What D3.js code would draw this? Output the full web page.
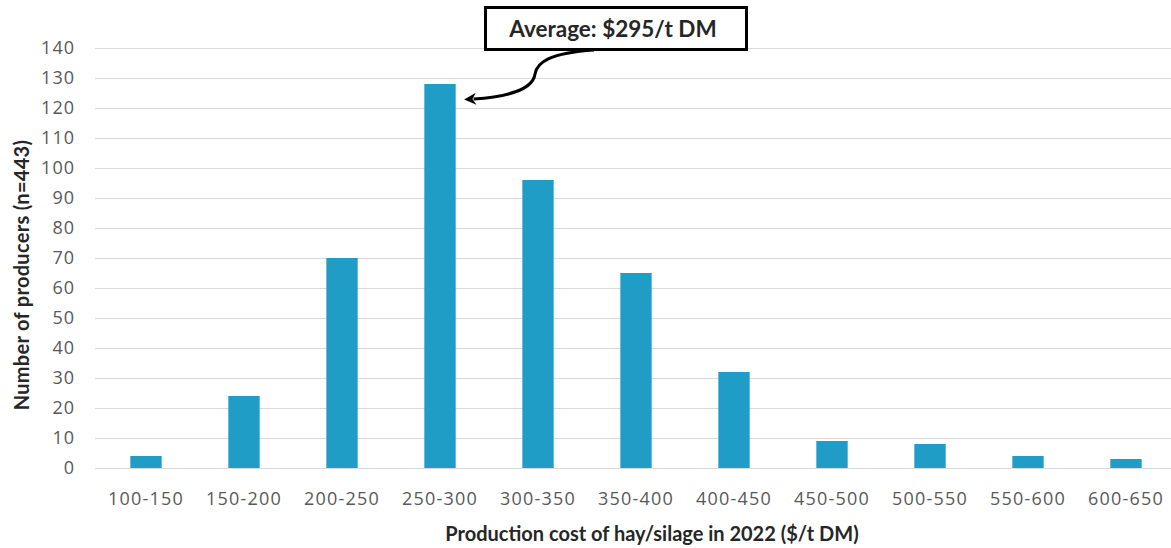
<!DOCTYPE html>
<html>
<head>
<meta charset="utf-8">
<script src="https://cdn.jsdelivr.net/npm/d3@7"></script>
<style>
  html, body { margin: 0; padding: 0; background: #fff; }
  svg { display: block; }
</style>
</head>
<body>
<svg id="chart" width="1171" height="548"></svg>
<script>
// Cost bands ($/t DM) and number of producers in each
const categories = ["100-150","150-200","200-250","250-300","300-350","350-400","400-450","450-500","500-550","550-600","600-650"];
const producers = [4, 24, 70, 128, 96, 65, 32, 9, 8, 4, 3];
const yTicks = [0,10,20,30,40,50,60,70,80,90,100,110,120,130,140];
const averageLabel = "Average: $295/t DM";

const svg = d3.select("#chart");
const margin = { left: 97, right: -4, top: 48, bottom: 80 };
const W = 1171, H = 548;

const x = d3.scaleBand()
  .domain(categories)
  .range([margin.left, W - margin.right])
  .paddingInner(0.68)
  .paddingOuter(0.34);

const y = d3.scaleLinear()
  .domain([0, 140])
  .range([H - margin.bottom, margin.top]);

// Horizontal gridlines
svg.append("g")
  .selectAll("line")
  .data(yTicks)
  .join("line")
  .attr("x1", 95)
  .attr("x2", 1171)
  .attr("y1", d => Math.round(y(d)) + 0.5)
  .attr("y2", d => Math.round(y(d)) + 0.5)
  .attr("stroke", "#d9d9d9")
  .attr("stroke-width", 1.2);

// Y axis labels
const yAxis = d3.axisLeft(y).tickValues(yTicks).tickSize(0).tickPadding(0);
const gy = svg.append("g")
  .attr("transform", `translate(75,0)`)
  .call(yAxis);
gy.select(".domain").remove();
gy.selectAll("text")
  .attr("font-family", "'Open Sans', sans-serif")
  .attr("font-size", 18)
  .attr("letter-spacing", 1)
  .attr("fill", "#595959");

// Bars
svg.append("g")
  .selectAll("rect")
  .data(producers)
  .join("rect")
  .attr("x", (d, i) => x(categories[i]))
  .attr("width", x.bandwidth())
  .attr("y", d => y(d))
  .attr("height", d => y(0) - y(d))
  .attr("fill", "#1f9dc7");

// X axis labels
const xAxis = d3.axisBottom(x).tickSize(0).tickPadding(0);
const gx = svg.append("g")
  .attr("transform", `translate(0,${y(0) + 37})`)
  .call(xAxis);
gx.select(".domain").remove();
gx.selectAll("text")
  .attr("dy", 0)
  .attr("font-family", "'Open Sans', sans-serif")
  .attr("font-size", 18)
  .attr("letter-spacing", 1.2)
  .attr("fill", "#595959");

// Axis titles
svg.append("text")
  .attr("x", 652)
  .attr("y", 541)
  .attr("text-anchor", "middle")
  .attr("font-family", "Lato, sans-serif")
  .attr("font-weight", 700)
  .attr("font-size", 20)
  .attr("fill", "#262626")
  .text("Production cost of hay/silage in 2022 ($/t DM)");

svg.append("text")
  .attr("transform", "translate(29,275) rotate(-90)")
  .attr("text-anchor", "middle")
  .attr("font-family", "Lato, sans-serif")
  .attr("font-weight", 700)
  .attr("font-size", 20)
  .attr("letter-spacing", 0.3)
  .attr("fill", "#262626")
  .text("Number of producers (n=443)");

// Average annotation box with curved arrow to the peak bar
svg.append("defs").append("marker")
  .attr("id", "arrowhead")
  .attr("viewBox", "0 0 10 10")
  .attr("refX", 2)
  .attr("refY", 5)
  .attr("markerWidth", 4.5)
  .attr("markerHeight", 4)
  .attr("orient", "auto")
  .append("path")
  .attr("d", "M0,0 L10,5 L0,10 L3,5 Z")
  .attr("fill", "#000");

const peakIdx = producers.indexOf(d3.max(producers));
const tipX = x(categories[peakIdx]) + x.bandwidth() + 18;
const tipY = y(producers[peakIdx]) + 15;

svg.append("path")
  .attr("d", `M 594 50 C 550 53, 537 62, 535 74 C 533 90, 505 97, ${tipX} ${tipY}`)
  .attr("fill", "none")
  .attr("stroke", "#000")
  .attr("stroke-width", 3)
  .attr("marker-end", "url(#arrowhead)");

svg.append("rect")
  .attr("x", 485.5)
  .attr("y", 7.5)
  .attr("width", 261)
  .attr("height", 42)
  .attr("fill", "#fff")
  .attr("stroke", "#000")
  .attr("stroke-width", 3);

svg.append("text")
  .attr("x", 613)
  .attr("y", 37)
  .attr("text-anchor", "middle")
  .attr("font-family", "Lato, sans-serif")
  .attr("font-weight", 700)
  .attr("font-size", 22.5)
  .attr("fill", "#262626")
  .text(averageLabel);
</script>
</body>
</html>
